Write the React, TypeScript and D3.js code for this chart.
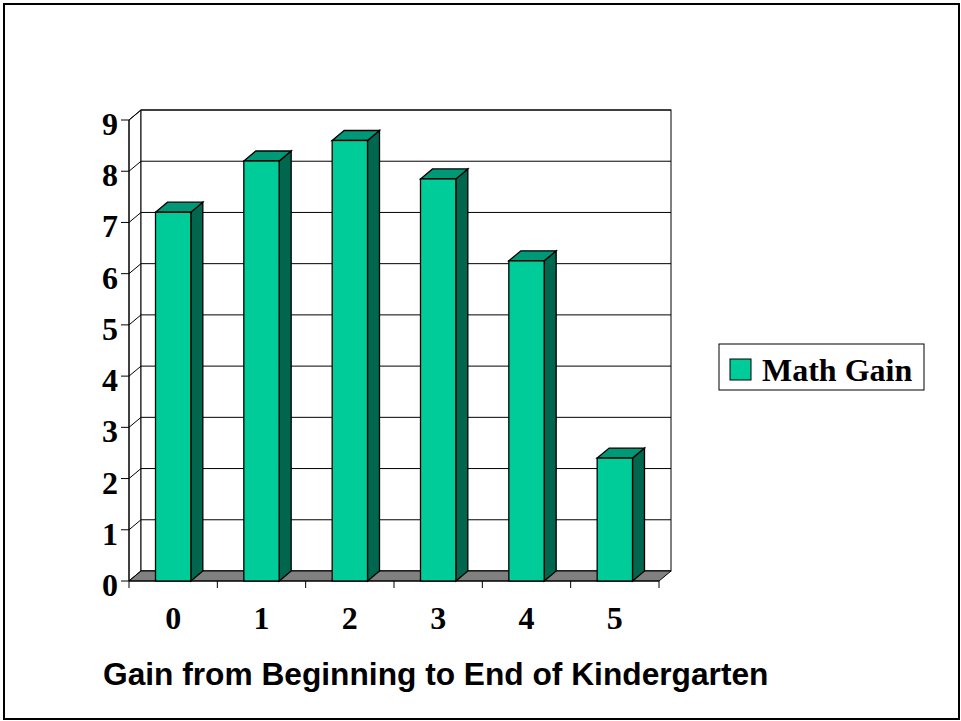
import React from 'react';
import { scaleBand, scaleLinear, range } from 'd3';

const categories = ['0', '1', '2', '3', '4', '5'];
const mathGain = [7.2, 8.2, 8.6, 7.85, 6.25, 2.4];
const yTicks = [0, 1, 2, 3, 4, 5, 6, 7, 8, 9];
const seriesName = 'Math Gain';
const xTitle = 'Gain from Beginning to End of Kindergarten';

export default function App() {
  const W = 961;
  const H = 721;
  // 3d depth offset
  const dx = 12;
  const dy = 10;
  const left = 129;
  const right = 659;
  const bottom = 581;
  const top = 120;

  const x = scaleBand<string>()
    .domain(categories)
    .range([left, right])
    .paddingInner(0.6)
    .paddingOuter(0.3);
  const step = (right - left) / categories.length;
  const y = scaleLinear().domain([0, 9]).range([bottom, top]);

  const front = '#00CC99';
  const topCol = '#009977';
  const side = '#00664D';

  const serif = '"Liberation Serif", "Times New Roman", serif';
  const sans = '"Liberation Sans", Arial, sans-serif';

  return (
    <svg width={W} height={H} style={{ position: 'absolute', left: 0, top: 0 }}>
      <rect x={0} y={0} width={W} height={H} fill="#fff" />
      <rect x={4} y={4} width={955} height={715} fill="none" stroke="#000" strokeWidth={2} />

      {/* walls */}
      <polygon
        points={`${left},${y(9)} ${left + dx},${y(9) - dy} ${left + dx},${bottom - dy} ${left},${bottom}`}
        fill="#fff"
        stroke="#000"
      />
      <rect
        x={left + dx}
        y={y(9) - dy}
        width={right - left}
        height={bottom - y(9)}
        fill="#fff"
        stroke="#000"
      />
      {yTicks.map((t) => (
        <g key={t}>
          <line x1={left + dx} x2={right + dx} y1={y(t) - dy} y2={y(t) - dy} stroke="#000" />
          <line x1={left} x2={left + dx} y1={y(t)} y2={y(t) - dy} stroke="#000" />
          <line x1={left - 8} x2={left} y1={y(t)} y2={y(t)} stroke="#000" />
          <text
            x={118}
            y={y(t) + 15}
            textAnchor="end"
            fontFamily={serif}
            fontWeight="bold"
            fontSize={32}
          >
            {t}
          </text>
        </g>
      ))}

      {/* floor */}
      <polygon
        points={`${left},${bottom} ${right},${bottom} ${right + dx},${bottom - dy} ${left + dx},${bottom - dy}`}
        fill="#808080"
        stroke="#000"
      />
      <line x1={left} x2={left} y1={y(9)} y2={bottom} stroke="#000" />
      <line x1={left} x2={right} y1={bottom} y2={bottom} stroke="#000" />
      {range(categories.length + 1).map((i) => (
        <line
          key={i}
          x1={left + i * step}
          x2={left + i * step}
          y1={bottom}
          y2={bottom + 7}
          stroke="#000"
        />
      ))}

      {/* bars */}
      {categories.map((c, i) => {
        const bx = x(c) as number;
        const bw = x.bandwidth();
        const by = y(mathGain[i]);
        return (
          <g key={c} stroke="#000" strokeWidth={1.3}>
            <polygon
              points={`${bx + bw},${by} ${bx + bw + dx},${by - dy} ${bx + bw + dx},${bottom - dy} ${bx + bw},${bottom}`}
              fill={side}
            />
            <polygon
              points={`${bx},${by} ${bx + dx},${by - dy} ${bx + bw + dx},${by - dy} ${bx + bw},${by}`}
              fill={topCol}
            />
            <rect x={bx} y={by} width={bw} height={bottom - by} fill={front} />
          </g>
        );
      })}

      {/* category labels */}
      {categories.map((c) => (
        <text
          key={c}
          x={(x(c) as number) + x.bandwidth() / 2}
          y={629}
          textAnchor="middle"
          fontFamily={serif}
          fontWeight="bold"
          fontSize={32}
        >
          {c}
        </text>
      ))}

      <text x={103} y={685} fontFamily={sans} fontWeight="bold" fontSize={31.7}>
        {xTitle}
      </text>

      {/* legend */}
      <rect x={719} y={344} width={205} height={46} fill="#fff" stroke="#000" />
      <rect x={730} y={359} width={21} height={21} fill={front} stroke="#000" />
      <text x={762} y={381} fontFamily={serif} fontWeight="bold" fontSize={32}>
        {seriesName}
      </text>
    </svg>
  );
}
